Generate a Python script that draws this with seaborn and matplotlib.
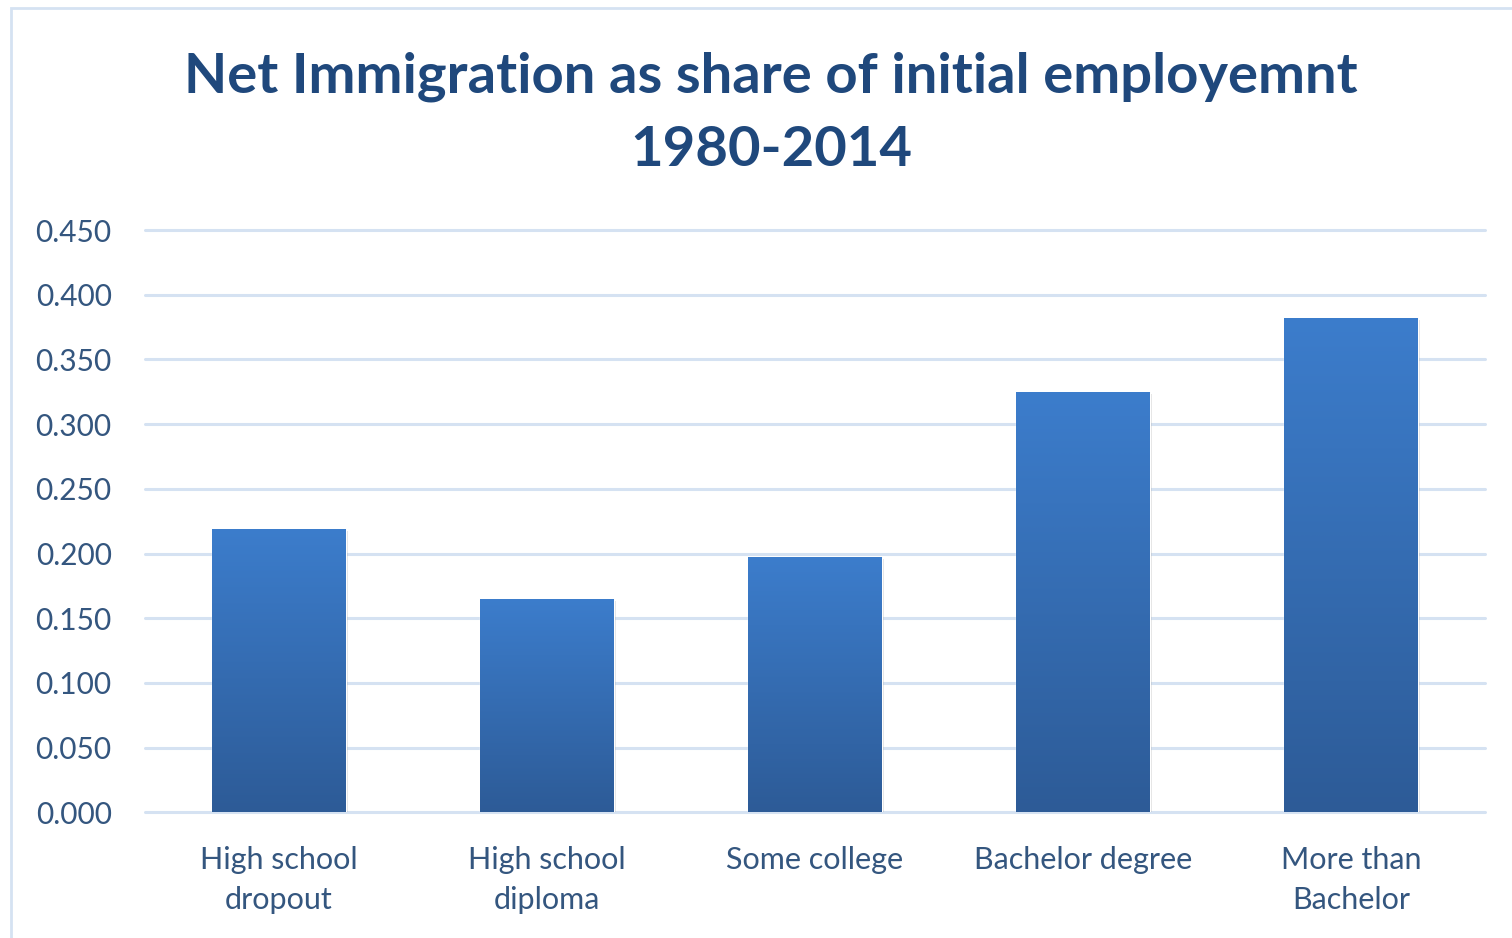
import numpy as np
import pandas as pd
import matplotlib
matplotlib.use("Agg")
import matplotlib.pyplot as plt
import matplotlib.patheffects as pe
from matplotlib.colors import LinearSegmentedColormap
from matplotlib.patches import Rectangle
import seaborn as sns

# Data
categories = ["High school\ndropout", "High school\ndiploma", "Some college",
              "Bachelor degree", "More than\nBachelor"]
values = [0.219, 0.165, 0.197, 0.325, 0.382]
y_ticks = [0.0, 0.05, 0.10, 0.15, 0.20, 0.25, 0.30, 0.35, 0.40, 0.45]
title = "Net Immigration as share of initial employemnt\n1980-2014"

# Style
TITLE_COLOR = "#1F487C"
LABEL_COLOR = "#34567F"
GRID_COLOR = "#D5E2F2"
BAR_TOP = "#3C7DCC"
BAR_BOTTOM = "#2D5B97"

sns.set_theme(style="white")
plt.rcParams["font.family"] = ["Lato", "DejaVu Sans"]

W, H = 1512, 938
fig = plt.figure(figsize=(W / 100, H / 100), dpi=100)
fig.patch.set_facecolor("white")

ax = fig.add_axes([145 / W, 1 - 812.3 / H, 1340 / W, 582.3 / H])
df = pd.DataFrame({"category": categories, "value": values})
sns.barplot(data=df, x="category", y="value", ax=ax, color=BAR_BOTTOM,
            width=0.5, saturation=1, zorder=2)

# Vertical gradient fill clipped to each bar, with a soft drop shadow
cmap = LinearSegmentedColormap.from_list("bar_grad", [BAR_BOTTOM, BAR_TOP])
grad = np.linspace(0, 1, 256).reshape(-1, 1)
for patch in list(ax.patches):
    x0 = patch.get_x()
    w = patch.get_width()
    h = patch.get_height()
    patch.set_path_effects([pe.SimplePatchShadow(offset=(1.5, -1.5), shadow_rgbFace="#000000",
                                                 alpha=0.12), pe.Normal()])
    im = ax.imshow(grad, extent=[x0, x0 + w, 0, h], origin="lower", aspect="auto",
                   cmap=cmap, zorder=3)
    im.set_clip_path(patch)

ax.set_xlim(-0.5, 4.5)
ax.set_ylim(0, 0.45)
ax.set_yticks(y_ticks)
ax.set_yticklabels([f"{t:.3f}" for t in y_ticks])
ax.set_xlabel("")
ax.set_ylabel("")

ax.yaxis.grid(True, color=GRID_COLOR, linewidth=2.2, zorder=0)
ax.xaxis.grid(False)
ax.set_axisbelow(True)
for line in ax.get_ygridlines():
    line.set_clip_on(False)
for s in ax.spines.values():
    s.set_visible(False)

ax.tick_params(axis="y", length=0, pad=24, labelsize=21.5, labelcolor=LABEL_COLOR)
ax.tick_params(axis="x", length=0, pad=24, labelsize=22, labelcolor=LABEL_COLOR)
for lbl in ax.get_xticklabels():
    lbl.set_linespacing(1.55)

fig.text(771 / W, 1 - 113 / H, title, ha="center", va="center", fontsize=40.5,
         fontweight="bold", color=TITLE_COLOR, linespacing=1.56)

# Chart frame
fig.add_artist(Rectangle((11 / W, -0.1), 1.2, (H - 8) / H + 0.1, transform=fig.transFigure,
                         fill=False, edgecolor=GRID_COLOR, linewidth=2))

fig.savefig("out.png", dpi=100, facecolor="white")
